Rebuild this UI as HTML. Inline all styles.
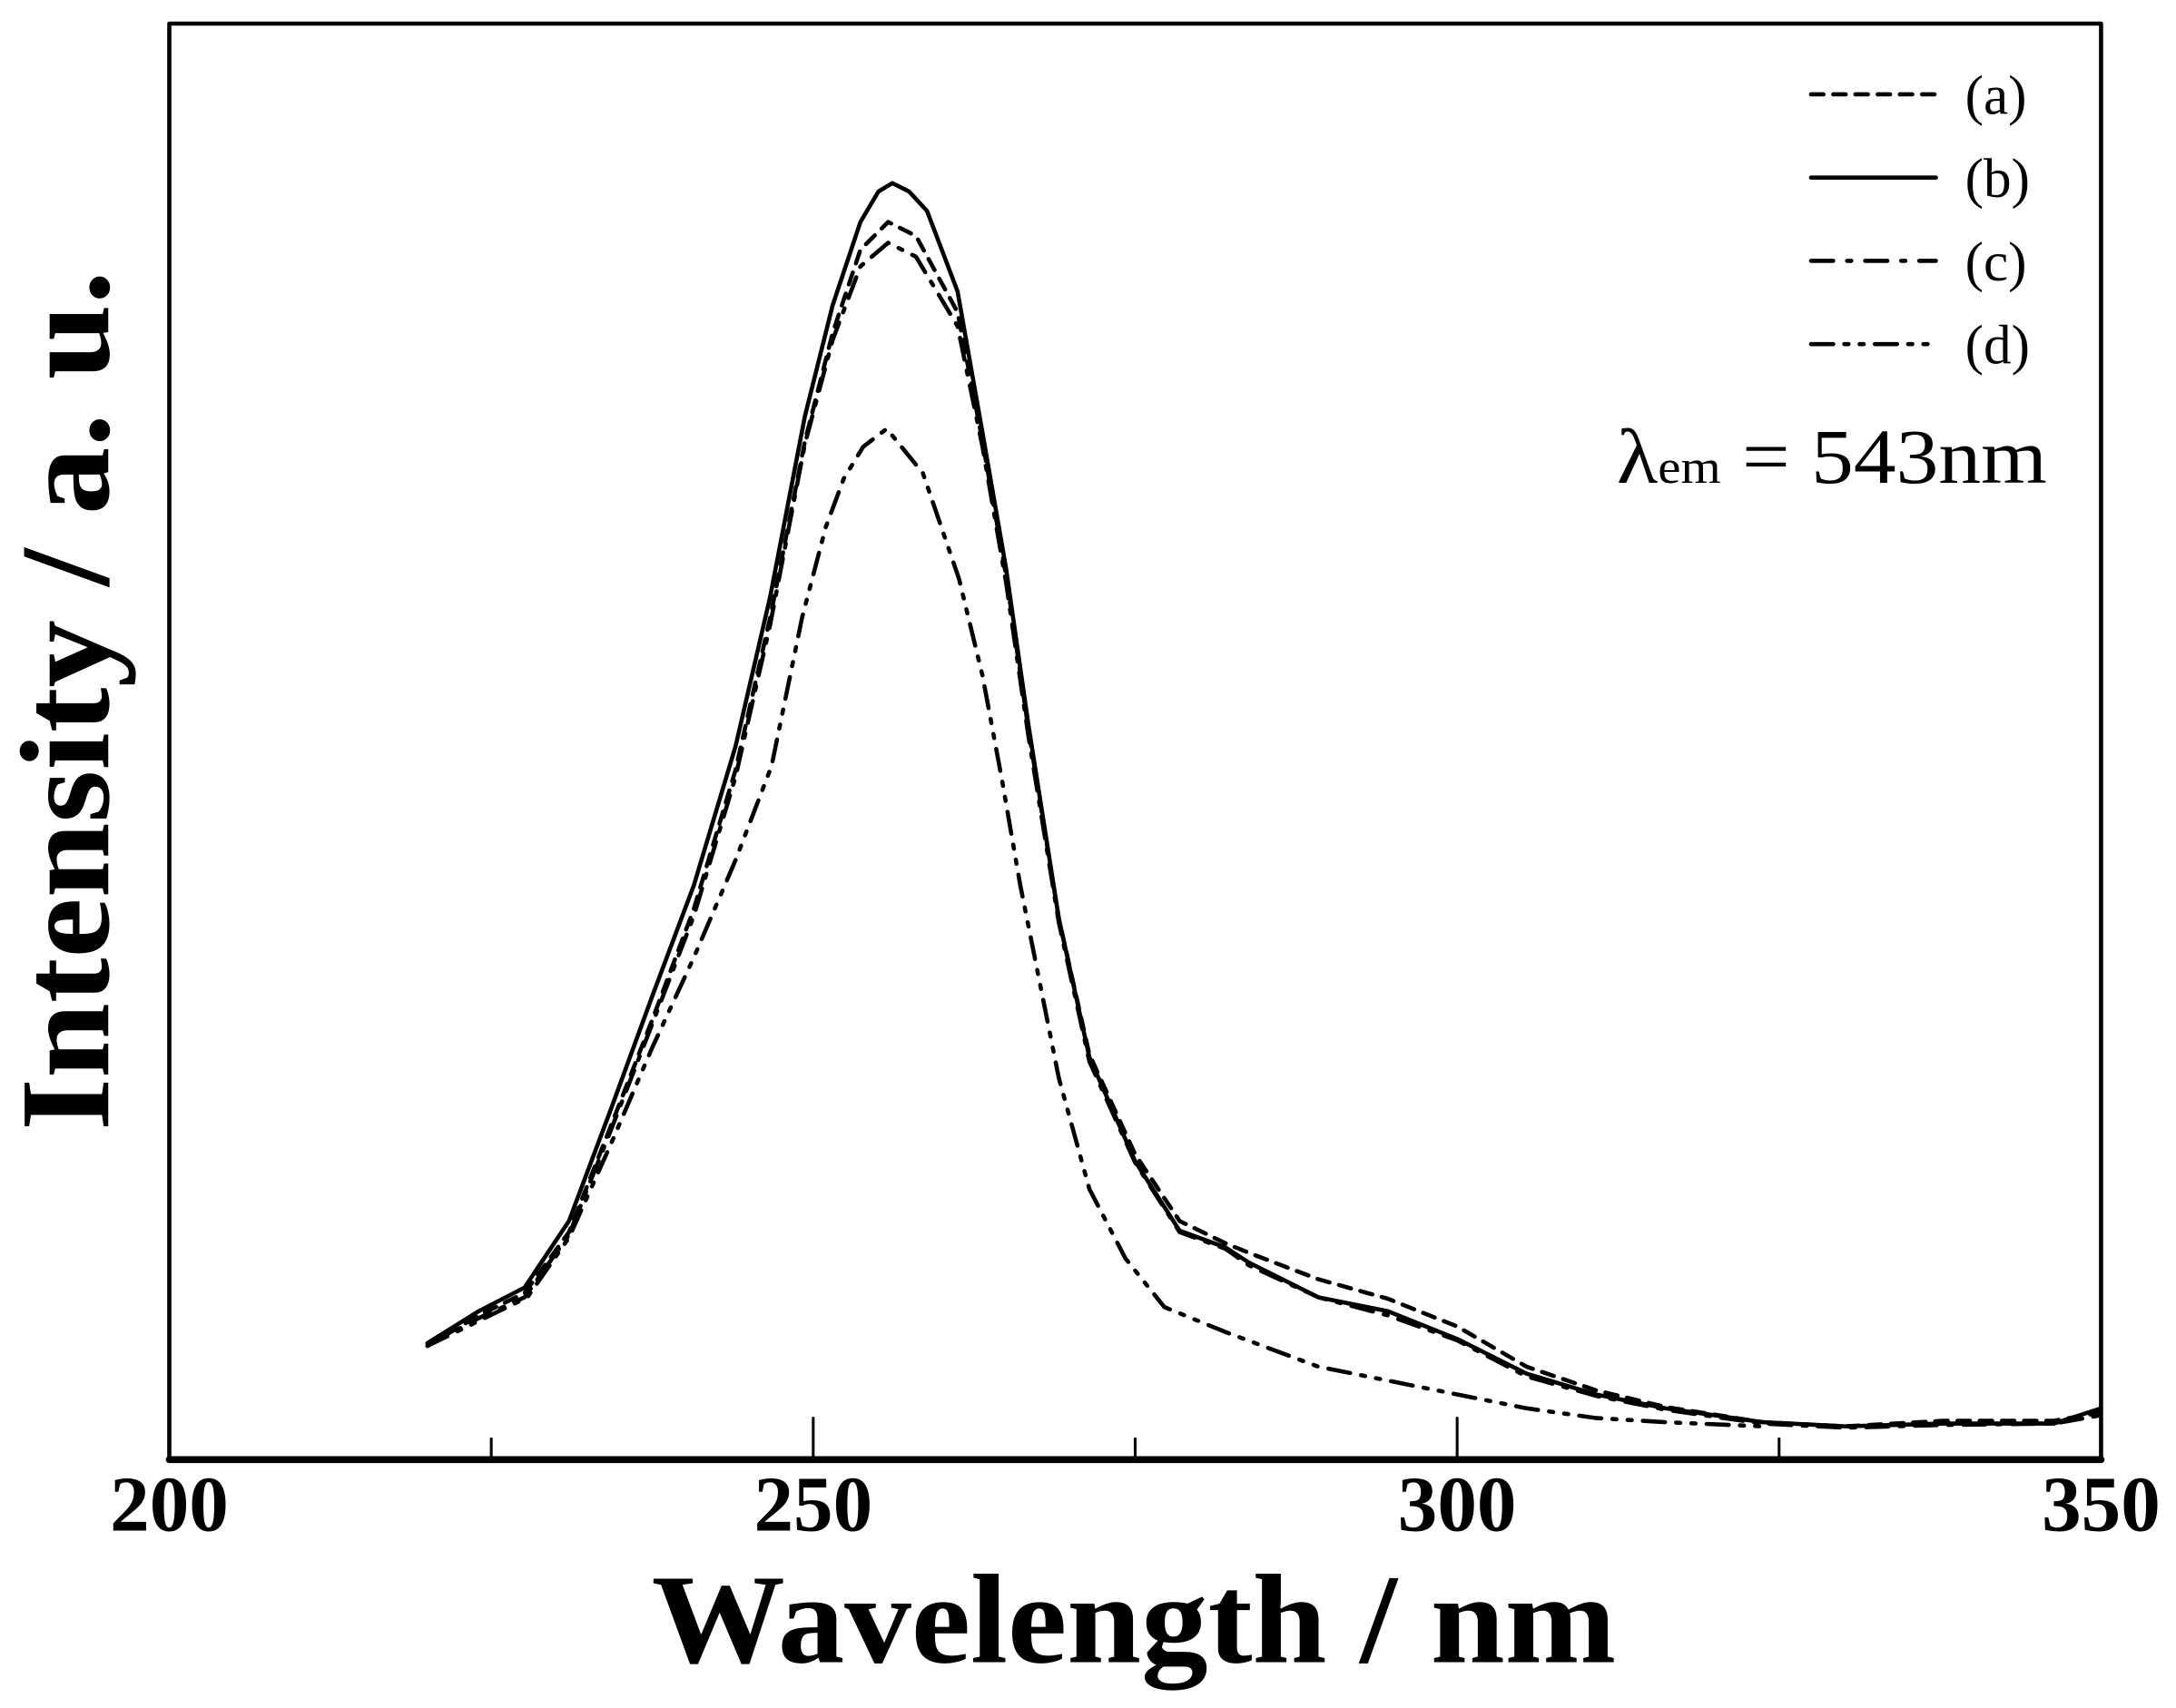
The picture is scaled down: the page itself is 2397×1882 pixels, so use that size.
<!DOCTYPE html>
<html><head><meta charset="utf-8"><style>html,body{margin:0;padding:0;background:#fff}svg{display:block}</style></head>
<body>
<svg width="2397" height="1882" viewBox="0 0 1568 1231" preserveAspectRatio="none" xmlns="http://www.w3.org/2000/svg">
<rect width="1568" height="1231" fill="#fff"/>
<g fill="none" stroke="#000" stroke-linejoin="round" stroke-linecap="round">
<rect x="122" y="17" width="1392" height="1035" stroke-width="3"/>
<line x1="122" y1="1052" x2="1514" y2="1052" stroke-width="5"/>
<line x1="354" y1="1052" x2="354" y2="1037" stroke-width="2"/>
<line x1="586" y1="1052" x2="586" y2="1022" stroke-width="2"/>
<line x1="818" y1="1052" x2="818" y2="1037" stroke-width="2"/>
<line x1="1050" y1="1052" x2="1050" y2="1022" stroke-width="2"/>
<line x1="1282" y1="1052" x2="1282" y2="1037" stroke-width="2"/>
<!-- b solid -->
<polyline stroke-width="3" points="308,968 345,945 378,928 410,880 440,800 470,718 500,638 530,538 555,430 580,300 600,220 620,160 633,138 643,132 655,138 668,152 690,210 708,312 725,410 741,522 763,662 785,762 818,837 850,887 883,899 900,910 950,935 1000,945 1050,965 1100,990 1150,1005 1200,1015 1270,1025 1330,1028 1400,1026 1480,1026 1514,1015"/>
<!-- a dashed -->
<polyline stroke-width="3" stroke-dasharray="9,7" points="308,970 345,948 378,932 410,888 440,812 470,735 500,655 530,555 555,445 580,318 600,240 620,180 640,160 660,170 690,225 708,318 725,415 741,525 763,662 785,760 818,832 850,880 883,896 900,903 950,922 1000,936 1050,956 1100,985 1150,1002 1200,1014 1270,1025 1330,1028 1400,1024 1480,1024 1514,1018"/>
<!-- c dash-dot -->
<polyline stroke-width="3" stroke-dasharray="16,8,3,8" points="308,970 345,950 378,935 410,890 440,815 470,738 500,660 530,560 555,450 580,320 600,245 620,192 640,175 660,185 690,235 708,322 725,420 741,530 763,665 785,765 818,838 850,888 883,900 900,912 950,935 1000,948 1050,966 1100,992 1150,1006 1200,1016 1270,1026 1330,1029 1400,1027 1480,1026 1514,1020"/>
<!-- d dash-dot-dot -->
<polyline stroke-width="3" stroke-dasharray="16,8,3,8,3,8" points="308,970 345,952 380,935 410,892 440,825 470,755 500,690 530,620 556,552 578,445 595,380 608,345 622,322 639,309 665,341 691,417 708,487 722,562 735,637 748,702 763,777 785,857 811,907 839,942 883,960 950,985 1000,995 1050,1005 1100,1015 1150,1022 1200,1025 1270,1028"/>
<!-- legend -->
<line x1="1305" y1="68" x2="1395" y2="68" stroke-width="3" stroke-dasharray="9,7"/>
<line x1="1305" y1="128" x2="1395" y2="128" stroke-width="3"/>
<line x1="1305" y1="188" x2="1395" y2="188" stroke-width="3" stroke-dasharray="16,10,3,10"/>
<line x1="1305" y1="248" x2="1395" y2="248" stroke-width="3" stroke-dasharray="16,8,3,8,3,8"/>
</g>
<g font-family="Liberation Serif, serif" fill="#000">
<g font-size="40">
<text x="1416" y="82">(a)</text>
<text x="1416" y="142">(b)</text>
<text x="1416" y="202">(c)</text>
<text x="1416" y="262">(d)</text>
</g>
<text x="1165" y="348" font-size="56" textLength="310" lengthAdjust="spacingAndGlyphs">λ<tspan font-size="34">em</tspan> = 543nm</text>
<g font-size="57" font-weight="bold" text-anchor="middle">
<text x="122" y="1103">200</text>
<text x="586" y="1103">250</text>
<text x="1050" y="1103">300</text>
<text x="1514" y="1103">350</text>
</g>
<text x="817" y="1198" font-size="92" font-weight="bold" text-anchor="middle" textLength="695" lengthAdjust="spacingAndGlyphs">Wavelength / nm</text>
<text transform="translate(78,505) rotate(-90)" font-size="92" font-weight="bold" text-anchor="middle" textLength="620" lengthAdjust="spacingAndGlyphs">Intensity / a. u.</text>
</g>
</svg>
</body></html>
